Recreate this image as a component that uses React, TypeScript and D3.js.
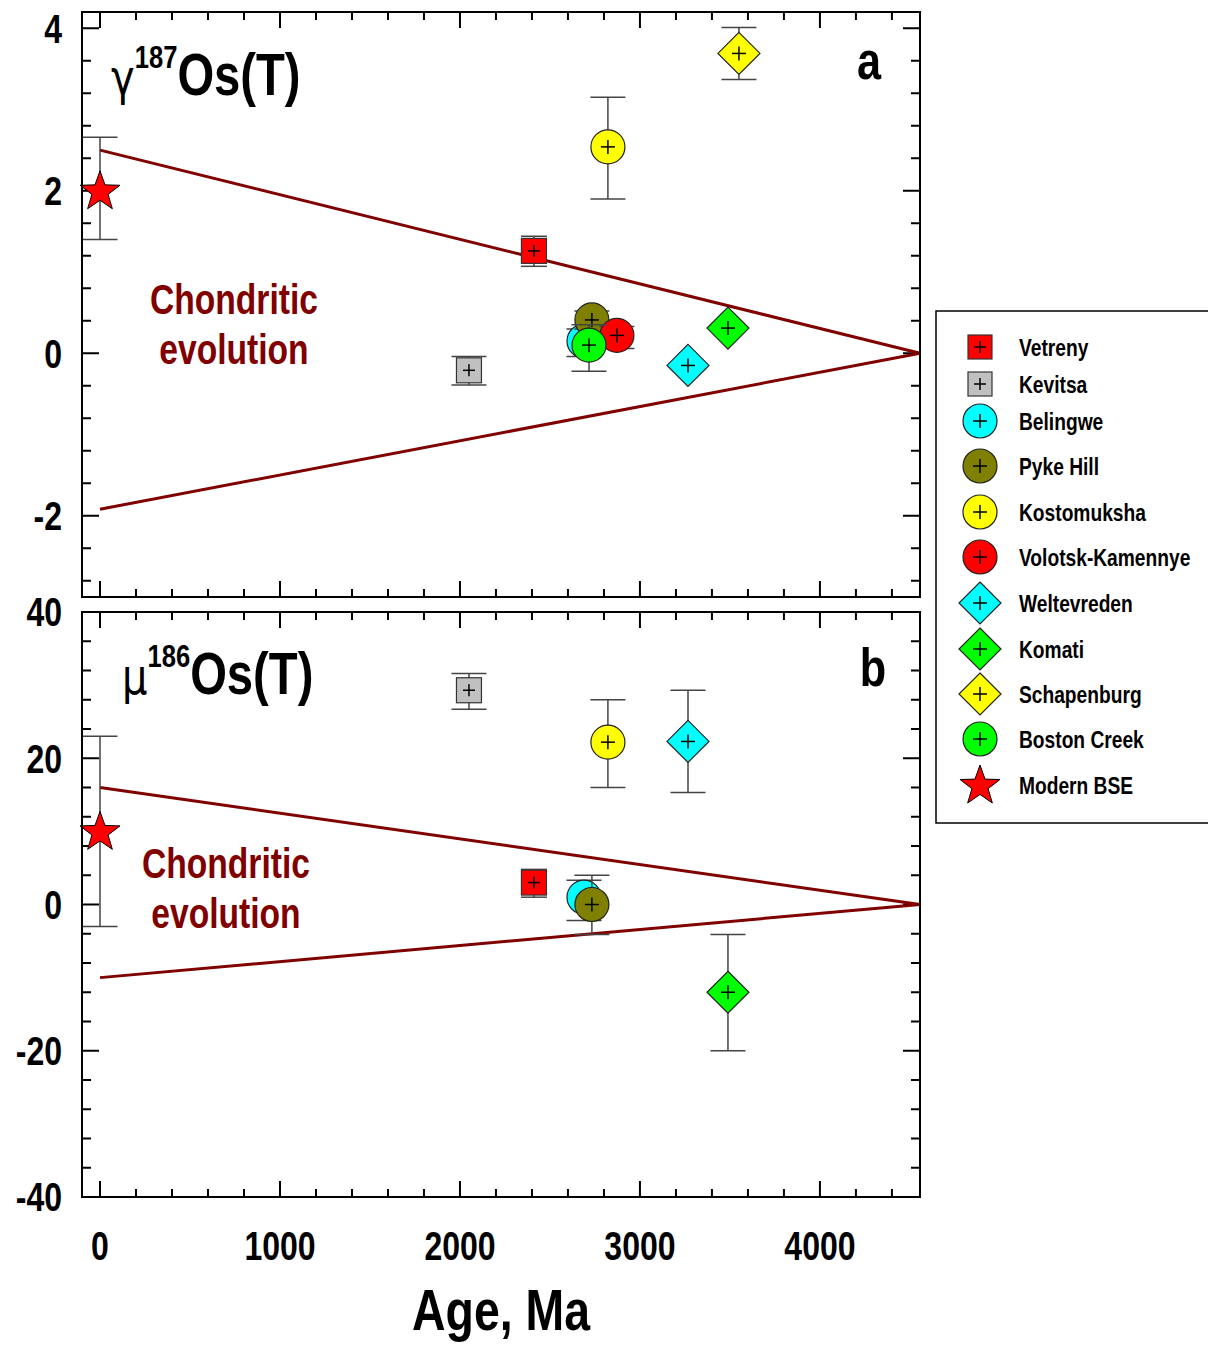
import React from "react";
import * as d3 from "d3";

// ---------- data ----------
const legendGroups = ["Vetreny", "Kevitsa", "Belingwe", "Pyke Hill", "Kostomuksha", "Volotsk-Kamennye", "Weltevreden", "Komati", "Schapenburg", "Boston Creek", "Modern BSE"];
const legendShapes = ["square", "square", "circle", "circle", "circle", "circle", "diamond", "diamond", "diamond", "circle", "star"];
const legendFills = ["#FF0000", "#C0C0C0", "#00FFFF", "#808000", "#FFFF00", "#FF0000", "#00FFFF", "#00FF00", "#FFFF00", "#00FF00", "#FF0000"];

// Panel a: gamma 187Os(T)
const gammaGroups = ["Modern BSE", "Kevitsa", "Vetreny", "Kostomuksha", "Schapenburg", "Belingwe", "Pyke Hill", "Volotsk-Kamennye", "Boston Creek", "Weltevreden", "Komati"];
const gammaAges = [0, 2050, 2411, 2822, 3550, 2689, 2733, 2872, 2717, 3267, 3489];
const gammaValues = [2.0, -0.21, 1.26, 2.54, 3.69, 0.15, 0.41, 0.22, 0.10, -0.15, 0.31];
const gammaLow = [1.40, -0.39, 1.07, 1.90, 3.37, -0.04, 0.30, 0.06, -0.22, -0.15, 0.31];
const gammaHigh = [2.66, -0.04, 1.44, 3.15, 4.01, 0.30, 0.52, 0.33, 0.35, -0.15, 0.31];

// Panel b: mu 186Os(T)
const muGroups = ["Modern BSE", "Kevitsa", "Vetreny", "Kostomuksha", "Weltevreden", "Belingwe", "Pyke Hill", "Komati"];
const muAges = [0, 2050, 2411, 2822, 3267, 2689, 2733, 3489];
const muValues = [10, 29.3, 3.0, 22.2, 22.3, 1.0, 0.0, -12.0];
const muLow = [-3, 26.7, 1.0, 16.0, 15.3, -2.2, -4.1, -20.0];
const muHigh = [23, 31.6, 4.8, 28.0, 29.3, 3.3, 4.0, -4.1];

// Chondritic evolution envelopes
const evolutionAges = [0, 4556];
const gammaUpper = [2.5, 0];
const gammaLower = [-1.92, 0];
const muUpper = [16, 0];
const muLower = [-10, 0];

const xTickLabels = [0, 1000, 2000, 3000, 4000];
const gammaTickLabels = [4, 2, 0, -2];
const muTickLabels = [40, 20, 0, -20, -40];

// ---------- layout ----------
const FONT = "'Liberation Sans',Arial,sans-serif";
const SX = 0.8;
const X0 = 82, X1 = 920;
const A_TOP = 12, A_BOT = 597;
const B_TOP = 612, B_BOT = 1197;

const x = d3.scaleLinear().domain([-100, 4556]).range([X0, X1]);
const yA = d3.scaleLinear().domain([-3, 4.2]).range([A_BOT, A_TOP]);
const yB = d3.scaleLinear().domain([-40, 40]).range([B_BOT, B_TOP]);

const styleOf = (g: string) => {
  const i = legendGroups.indexOf(g);
  return { shape: legendShapes[i], fill: legendFills[i] };
};

function NText({ x, y, size, anchor = "start", fill = "#000", dy, children }: any) {
  return (
    <text transform={`translate(${x},${y}) scale(${SX},1)`} textAnchor={anchor} fontFamily={FONT} fontWeight="bold" fontSize={size} fill={fill} dy={dy}>
      {children}
    </text>
  );
}

function starPath(cx: number, cy: number, R: number, r: number) {
  const pts: [number, number][] = [];
  for (let k = 0; k < 10; k++) {
    const ang = -Math.PI / 2 + (k * Math.PI) / 5;
    const rad = k % 2 === 0 ? R : r;
    pts.push([cx + rad * Math.cos(ang), cy + rad * Math.sin(ang)]);
  }
  return "M" + pts.map((p) => p.join(",")).join("L") + "Z";
}

function Marker({ shape, fill, cx, cy, legend }: { shape: string; fill: string; cx: number; cy: number; legend?: boolean }) {
  const c = shape === "square" ? 6 : 7;
  const cross = (
    <g stroke="#000" strokeWidth={1.5}>
      <line x1={cx - c} x2={cx + c} y1={cy} y2={cy} />
      <line x1={cx} x2={cx} y1={cy - c} y2={cy + c} />
    </g>
  );
  if (shape === "star") {
    return <path d={starPath(cx, cy + 1, 21, 8.5)} fill={fill} stroke="#000" strokeWidth={1} />;
  }
  let body;
  if (shape === "square") {
    const h = legend ? 12 : 12.5;
    body = <rect x={cx - h} y={cy - h} width={2 * h} height={2 * h} fill={fill} stroke="#333" strokeWidth={1.2} />;
  } else if (shape === "circle") {
    body = <circle cx={cx} cy={cy} r={17} fill={fill} stroke="#222" strokeWidth={1.2} />;
  } else {
    const h = 21;
    body = <path d={`M${cx},${cy - h}L${cx + h},${cy}L${cx},${cy + h}L${cx - h},${cy}Z`} fill={fill} stroke="#222" strokeWidth={1.2} />;
  }
  return (
    <g>
      {body}
      {cross}
    </g>
  );
}

function Panel({ y, top, bot, groups, ages, values, low, high, upper, lower, majorStep, minorStep, ymin, ymax, tickLabels }: any) {
  const xMinor = d3.range(0, 4401, 200);
  const yMinor = d3.range(Math.ceil(ymin / minorStep) * minorStep, ymax + 1e-9, minorStep).map((v: number) => Math.round(v * 1000) / 1000);
  const isMajorY = (v: number) => Math.abs(v / majorStep - Math.round(v / majorStep)) < 1e-6;
  const line = d3.line<number>().x((_, i) => x(evolutionAges[i])).y((d) => y(d));
  return (
    <g>
      <g stroke="#000" strokeWidth={2}>
        {xMinor.map((v: number) => {
          const L = v % 1000 === 0 ? 16 : 8;
          return (
            <g key={"x" + v}>
              <line x1={x(v)} x2={x(v)} y1={bot} y2={bot - L} />
              <line x1={x(v)} x2={x(v)} y1={top} y2={top + L} />
            </g>
          );
        })}
        {yMinor.map((v: number) => {
          const L = isMajorY(v) ? 17 : 9;
          return (
            <g key={"y" + v}>
              <line x1={X0} x2={X0 + L} y1={y(v)} y2={y(v)} />
              <line x1={X1} x2={X1 - L} y1={y(v)} y2={y(v)} />
            </g>
          );
        })}
      </g>
      <path d={line(upper) as string} fill="none" stroke="#800000" strokeWidth={3} />
      <path d={line(lower) as string} fill="none" stroke="#800000" strokeWidth={3} />
      {groups.map((g: string, i: number) => {
        const st = styleOf(g);
        const cx = x(ages[i]);
        const cap = g === "Vetreny" ? 13 : 17.5;
        const hasErr = high[i] !== low[i];
        return (
          <g key={g + i}>
            {hasErr && (
              <g stroke="#444" strokeWidth={1.5}>
                <line x1={cx} x2={cx} y1={y(high[i])} y2={y(low[i])} />
                <line x1={cx - cap} x2={cx + cap} y1={y(high[i])} y2={y(high[i])} />
                <line x1={cx - cap} x2={cx + cap} y1={y(low[i])} y2={y(low[i])} />
              </g>
            )}
            <Marker shape={st.shape} fill={st.fill} cx={cx} cy={y(values[i])} />
          </g>
        );
      })}
      <rect x={X0} y={top} width={X1 - X0} height={bot - top} fill="none" stroke="#000" strokeWidth={2} />
      {tickLabels.map((v: number) => (
        <NText key={"l" + v} x={62} y={y(v)} dy="0.36em" anchor="end" size={40}>
          {v}
        </NText>
      ))}
    </g>
  );
}

export default function App() {
  return (
    <svg width={1208} height={1345} style={{ display: "block", position: "absolute", left: 0, top: 0 }}>
      <rect width={1208} height={1345} fill="#fff" />
      <Panel y={yA} top={A_TOP} bot={A_BOT} groups={gammaGroups} ages={gammaAges} values={gammaValues} low={gammaLow} high={gammaHigh} upper={gammaUpper} lower={gammaLower} majorStep={2} minorStep={0.4} ymin={-3} ymax={4.2} tickLabels={gammaTickLabels} />
      <Panel y={yB} top={B_TOP} bot={B_BOT} groups={muGroups} ages={muAges} values={muValues} low={muLow} high={muHigh} upper={muUpper} lower={muLower} majorStep={20} minorStep={4} ymin={-40} ymax={40} tickLabels={muTickLabels} />

      {/* panel titles */}
      <NText x={111} y={95} size={59}>
        <tspan fontFamily="'DejaVu Sans',sans-serif" fontWeight="normal" fontSize={50}>γ</tspan>
        <tspan fontSize={32} dy={-27}>187</tspan>
        <tspan dy={27}>Os(T)</tspan>
      </NText>
      <NText x={122} y={694} size={59}>
        <tspan fontFamily="'DejaVu Sans',sans-serif" fontWeight="normal" fontSize={50}>μ</tspan>
        <tspan fontSize={32} dy={-27}>186</tspan>
        <tspan dy={27}>Os(T)</tspan>
      </NText>
      <NText x={869} y={79} anchor="middle" size={54}>a</NText>
      <NText x={873} y={686} anchor="middle" size={54}>b</NText>

      {/* chondritic evolution labels */}
      <NText x={234} y={314} anchor="middle" size={42} fill="#800000">Chondritic</NText>
      <NText x={234} y={364} anchor="middle" size={42} fill="#800000">evolution</NText>
      <NText x={226} y={878} anchor="middle" size={42} fill="#800000">Chondritic</NText>
      <NText x={226} y={928} anchor="middle" size={42} fill="#800000">evolution</NText>

      {/* x tick labels */}
      {xTickLabels.map((v) => (
        <NText key={"xl" + v} x={x(v)} y={1260} anchor="middle" size={40}>
          {v}
        </NText>
      ))}
      <NText x={501} y={1330} anchor="middle" size={58}>Age, Ma</NText>

      {/* legend */}
      <rect x={936} y={311} width={290} height={512} fill="#fff" stroke="#000" strokeWidth={1.5} />
      {legendGroups.map((g, i) => {
        const ys = [347, 384, 421, 466, 512, 557, 603, 649, 694, 739, 785];
        return (
          <g key={"lg" + g}>
            <Marker shape={legendShapes[i]} fill={legendFills[i]} cx={980} cy={ys[i]} legend />
            <NText x={1019} y={ys[i]} dy="0.36em" size={24}>{g}</NText>
          </g>
        );
      })}
    </svg>
  );
}
